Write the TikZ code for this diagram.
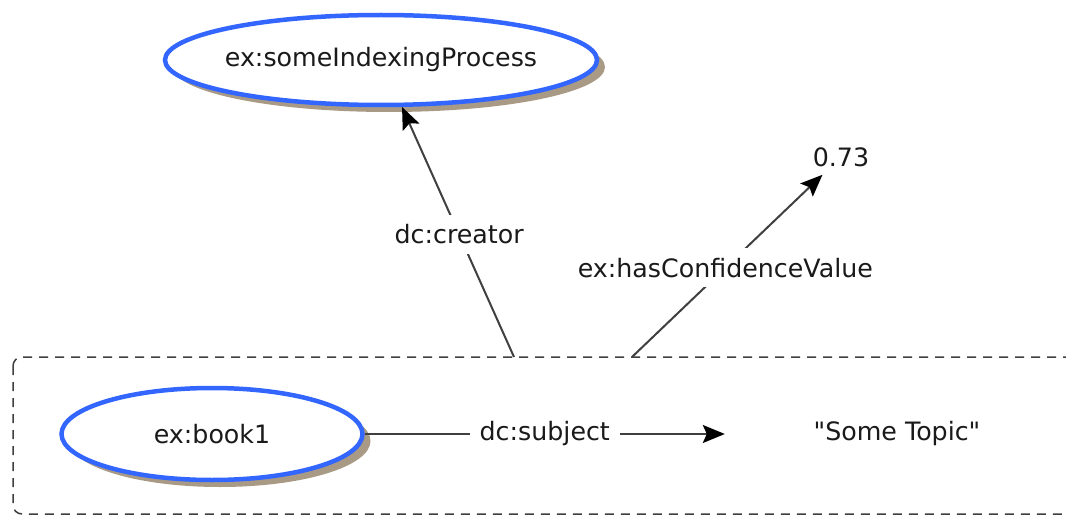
\documentclass[tikz,border=0pt]{standalone}
\usepackage{fontspec}
\setmainfont{DejaVu Sans}
\usetikzlibrary{arrows.meta,shapes.geometric,shadows}
\definecolor{nodeblue}{HTML}{3366FF}
\definecolor{shadowc}{HTML}{A89A85}
\definecolor{txt}{HTML}{1A1A1A}
\begin{document}
\begin{tikzpicture}[x=1pt,y=-1pt,
  every node/.style={font=\fontsize{25.3}{30}\selectfont, text=txt},
  resource/.style={ellipse, draw=nodeblue, line width=4.5pt, fill=white, inner xsep=-5pt,
    drop shadow={shadow xshift=8pt, shadow yshift=-7pt, fill=shadowc, opacity=1}},
  literal/.style={inner sep=8pt},
  edge/.style={draw=black!75, line width=2pt,
    -{Stealth[length=22pt,width=18pt,inset=4pt,fill=black,color=black]}},
  lab/.style={fill=white, inner sep=10pt, pos=0.49},
  groupbox/.style={draw=black!75, line width=1.5pt, dash pattern=on 9pt off 7pt, rounded corners=9pt}
]
\useasboundingbox (0,0) rectangle (1066,516);
\clip (0,0) rectangle (1066,516);
\fill[white] (0,0) rectangle (1066,516);

\draw[groupbox] (13,357) rectangle (1100,514);

\node[resource, minimum width=432pt, minimum height=90pt] (proc) at (381,60) {ex:someIndexingProcess};
\node[resource, minimum width=301pt, minimum height=92pt] (book) at (212,434) {ex:book1};
\node[literal, minimum width=344pt] (topic) at (897,434) {\textquotedbl Some Topic\textquotedbl};
\node[literal] (val) at (841,157) {0.73};

\coordinate (c1) at (514,357);
\coordinate (c2) at (632,357);

\draw[edge] (book) -- node[lab, pos=0.5] {dc:subject} (topic);
\draw[edge] (c1) -- node[lab] {dc:creator} (proc);
\draw[edge] (c2) -- node[lab] {ex:hasConfidenceValue} (val);
\end{tikzpicture}
\end{document}
